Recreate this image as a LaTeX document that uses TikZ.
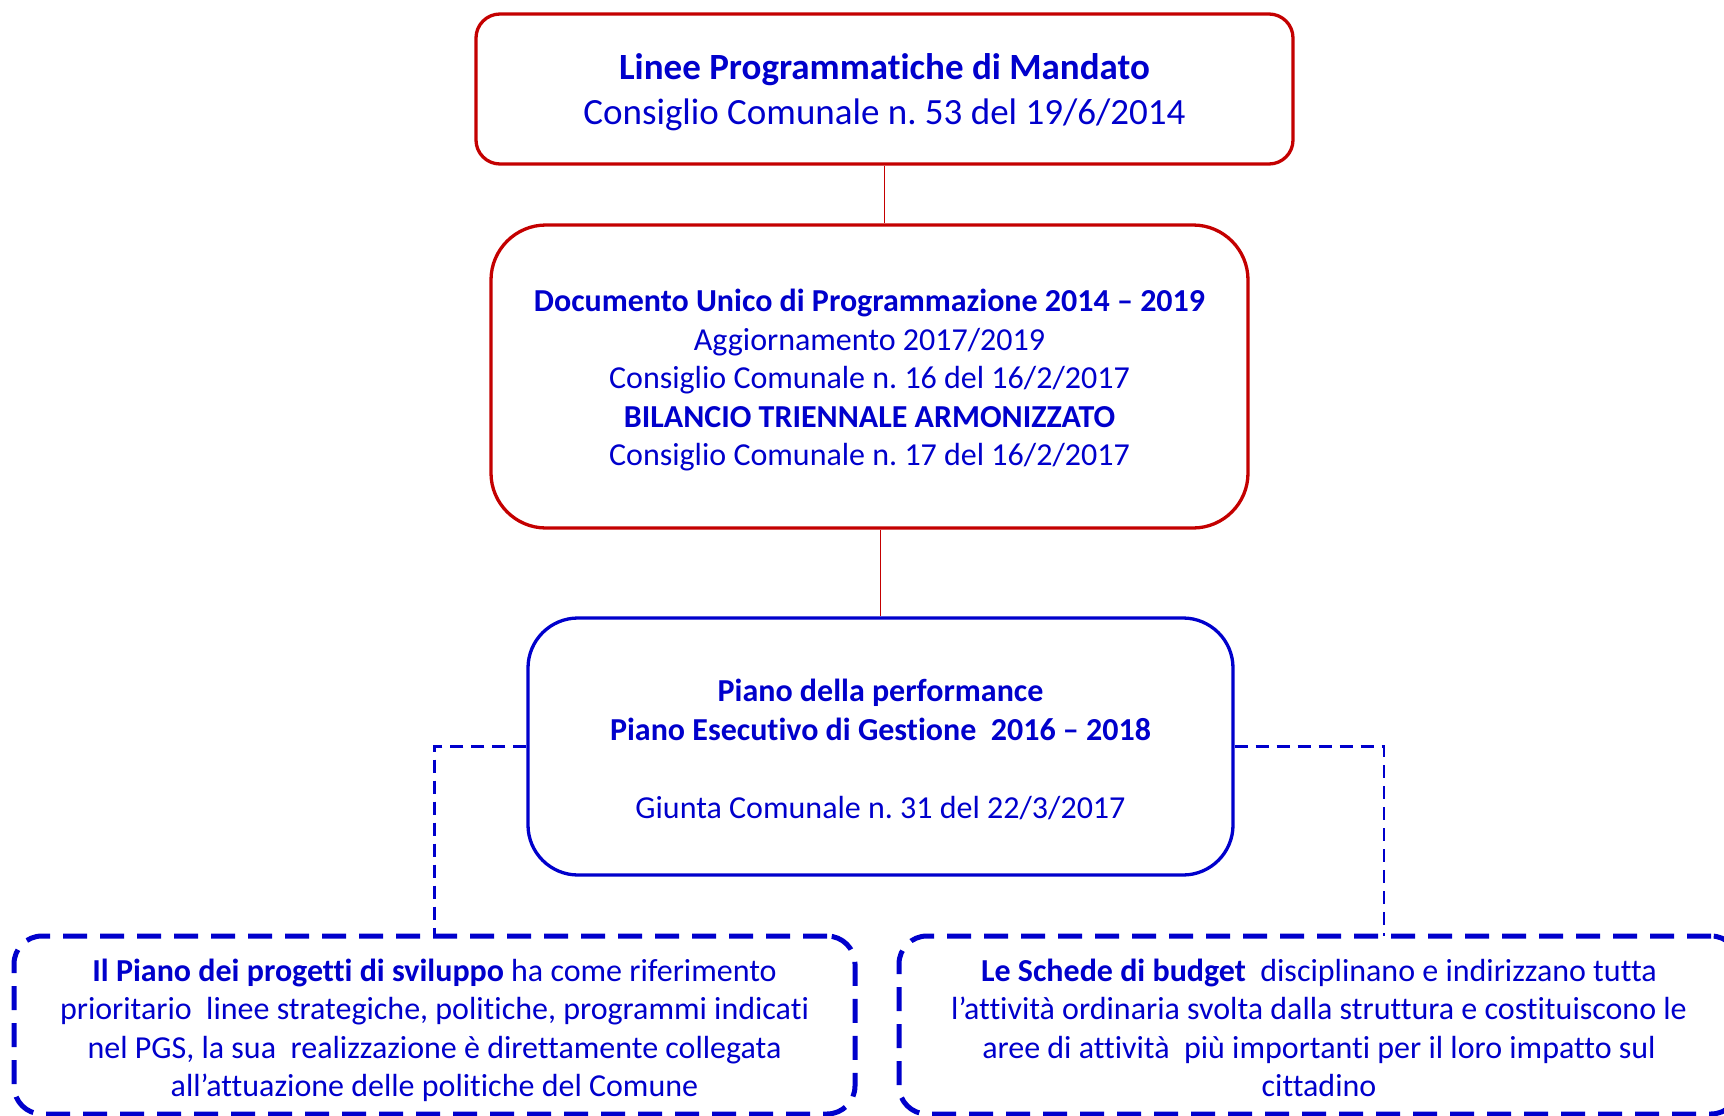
\documentclass[tikz,border=0pt]{standalone}
\usepackage{fontspec}
\setmainfont{Carlito}[Ligatures={NoCommon}]
\frenchspacing
\definecolor{tblue}{RGB}{0,0,204}
\definecolor{bred}{RGB}{196,0,0}
\newcommand{\boxtext}[2]{\raisebox{-#1}[\height][\depth]{\begin{tabular}{@{}c@{}}#2\end{tabular}}}
\begin{document}
\begin{tikzpicture}[x=1pt,y=-1pt,
  redbox/.style={draw=bred,line width=3.3pt,text=tblue,align=center,inner sep=0pt},
  bluebox/.style={draw=tblue,line width=3.3pt,text=tblue,align=center,inner sep=0pt},
  dashbox/.style={draw=tblue,line width=5pt,dash pattern=on 24pt off 13pt,text=tblue,align=center,inner sep=0pt,rounded corners=28pt},
  redline/.style={draw=bred,line width=1.5pt},
  dashline/.style={draw=tblue,line width=2.6pt,dash pattern=on 13pt off 8pt}]
\clip (0,0) rectangle (1724,1116);
\fill[white] (0,0) rectangle (1724,1116);
\node[redbox,rounded corners=24pt,minimum width=817pt,minimum height=150pt,
  font=\fontsize{37}{45}\selectfont] (top) at (884.5,89)
  {\boxtext{4.5pt}{\textbf{Linee Programmatiche di Mandato}\\Consiglio Comunale n. 53 del 19/6/2014}};
\node[redbox,rounded corners=55pt,minimum width=757pt,minimum height=303pt,
  font=\fontsize{32}{38.5}\selectfont] (dup) at (869.5,376.5)
  {\boxtext{4.5pt}{\textbf{Documento Unico di Programmazione 2014 – 2019}\\Aggiornamento 2017/2019\\Consiglio Comunale n. 16 del 16/2/2017\\\textbf{BILANCIO TRIENNALE ARMONIZZATO}\\Consiglio Comunale n. 17 del 16/2/2017}};
\node[bluebox,rounded corners=50pt,minimum width=705pt,minimum height=257pt,
  font=\fontsize{32}{39}\selectfont] (peg) at (880.5,746.5)
  {\boxtext{5.5pt}{\textbf{Piano della performance}\\\textbf{Piano Esecutivo di Gestione\ \ 2016 – 2018}\\[39pt]Giunta Comunale n. 31 del 22/3/2017}};
\node[dashbox,minimum width=841pt,minimum height=178pt,
  font=\fontsize{32}{38.5}\selectfont] (pps) at (434.5,1025)
  {\boxtext{6.5pt}{\textbf{Il Piano dei progetti di sviluppo} ha come riferimento\\prioritario\ \ linee strategiche, politiche, programmi indicati\\nel PGS, la sua\ \ realizzazione è direttamente collegata\\all’attuazione delle politiche del Comune}};
\node[dashbox,minimum width=840pt,minimum height=178pt,
  font=\fontsize{32}{38.5}\selectfont] (sb) at (1319,1025)
  {\boxtext{6.5pt}{\textbf{Le Schede di budget}\ \ disciplinano e indirizzano tutta\\l’attività ordinaria svolta dalla struttura e costituiscono le\\aree di attività\ \ più importanti per il loro impatto sul\\cittadino}};
\coordinate (sbtop) at (1384,936);
\draw[redline] (top.south) -- (top.south |- dup.north);
\draw[redline] (peg.north |- dup.south) -- (peg.north);
\draw[dashline] (peg.west) -| (pps.north);
\draw[dashline] (peg.east) -| (sbtop);
\end{tikzpicture}
\end{document}
